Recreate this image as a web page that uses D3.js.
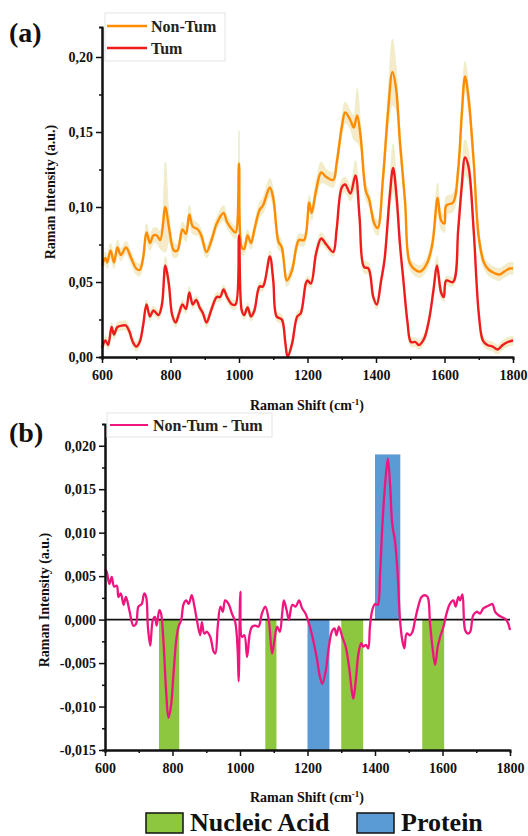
<!DOCTYPE html>
<html><head><meta charset="utf-8">
<script src="https://cdn.jsdelivr.net/npm/d3@7/dist/d3.min.js"></script>
<style>body{margin:0;background:#fff}svg{display:block}text{font-family:"Liberation Serif","Times New Roman",serif;font-weight:bold}</style>
</head><body><svg id="c" width="528" height="836"></svg>
<script>
// ---- data: [wavenumber, mean intensity, sd] ----
const nonTum = [[600,0.061,0.004],[610,0.066,0.004],[615,0.063,0.004],[625,0.071,0.005],[635,0.063,0.004],[645,0.073,0.005],[655,0.068,0.004],[670,0.073,0.004],[685,0.066,0.004],[700,0.059,0.004],[710,0.058,0.004],[720,0.066,0.004],[730,0.083,0.006],[740,0.076,0.005],[750,0.081,0.005],[760,0.081,0.005],[770,0.078,0.006],[785,0.100,0.03],[795,0.087,0.01],[810,0.071,0.005],[820,0.071,0.004],[835,0.085,0.005],[845,0.082,0.005],[855,0.095,0.006],[865,0.087,0.005],[880,0.085,0.004],[890,0.081,0.004],[905,0.070,0.004],[920,0.078,0.004],[935,0.089,0.004],[955,0.096,0.005],[965,0.090,0.004],[980,0.085,0.004],[990,0.083,0.004],[1000,0.129,0.022],[1008,0.073,0.005],[1015,0.072,0.004],[1025,0.081,0.004],[1035,0.076,0.004],[1045,0.085,0.004],[1060,0.098,0.005],[1070,0.101,0.005],[1090,0.113,0.006],[1100,0.106,0.006],[1115,0.077,0.005],[1125,0.073,0.004],[1140,0.051,0.004],[1155,0.058,0.004],[1175,0.078,0.004],[1190,0.078,0.004],[1205,0.103,0.005],[1212,0.096,0.005],[1225,0.111,0.006],[1240,0.123,0.007],[1255,0.120,0.005],[1275,0.118,0.005],[1285,0.129,0.005],[1300,0.153,0.006],[1310,0.163,0.007],[1325,0.158,0.006],[1335,0.153,0.008],[1345,0.161,0.018],[1355,0.147,0.008],[1370,0.111,0.006],[1380,0.105,0.005],[1395,0.089,0.005],[1405,0.086,0.005],[1420,0.118,0.007],[1435,0.163,0.012],[1448,0.190,0.022],[1458,0.180,0.015],[1470,0.143,0.008],[1485,0.103,0.005],[1498,0.063,0.004],[1515,0.058,0.004],[1530,0.057,0.004],[1550,0.063,0.004],[1565,0.076,0.005],[1580,0.106,0.01],[1590,0.091,0.006],[1600,0.089,0.006],[1605,0.101,0.006],[1625,0.103,0.006],[1640,0.125,0.007],[1650,0.160,0.008],[1660,0.187,0.01],[1670,0.173,0.008],[1685,0.131,0.006],[1700,0.080,0.005],[1715,0.063,0.004],[1730,0.058,0.004],[1745,0.056,0.004],[1760,0.055,0.004],[1775,0.057,0.004],[1790,0.059,0.004],[1800,0.059,0.004]];
const tum = [[600,0.006,0.003],[610,0.011,0.003],[618,0.008,0.003],[628,0.020,0.003],[635,0.015,0.003],[645,0.020,0.003],[660,0.021,0.003],[670,0.021,0.003],[680,0.017,0.003],[690,0.010,0.003],[700,0.007,0.003],[710,0.010,0.003],[720,0.021,0.003],[730,0.035,0.003],[740,0.027,0.003],[750,0.031,0.003],[765,0.028,0.003],[775,0.035,0.003],[785,0.061,0.006],[795,0.049,0.004],[805,0.028,0.003],[815,0.023,0.003],[825,0.029,0.003],[835,0.035,0.003],[845,0.032,0.003],[855,0.043,0.004],[865,0.035,0.003],[875,0.038,0.003],[885,0.033,0.003],[895,0.029,0.003],[905,0.023,0.003],[920,0.032,0.003],[935,0.040,0.003],[945,0.040,0.003],[955,0.045,0.003],[965,0.040,0.003],[980,0.035,0.003],[990,0.035,0.003],[1000,0.081,0.006],[1008,0.031,0.003],[1015,0.028,0.003],[1025,0.033,0.003],[1035,0.027,0.003],[1045,0.031,0.003],[1060,0.047,0.003],[1070,0.047,0.003],[1090,0.067,0.004],[1100,0.051,0.004],[1110,0.027,0.003],[1125,0.025,0.003],[1135,0.010,0.003],[1142,0.000,0.003],[1155,0.009,0.003],[1170,0.027,0.003],[1180,0.029,0.003],[1195,0.049,0.003],[1200,0.051,0.003],[1210,0.049,0.003],[1225,0.069,0.004],[1240,0.079,0.004],[1255,0.075,0.003],[1275,0.070,0.003],[1285,0.085,0.004],[1300,0.113,0.005],[1310,0.115,0.005],[1325,0.109,0.005],[1340,0.121,0.01],[1352,0.093,0.006],[1365,0.060,0.004],[1378,0.059,0.004],[1392,0.040,0.003],[1402,0.035,0.003],[1415,0.051,0.003],[1425,0.065,0.004],[1440,0.107,0.01],[1450,0.126,0.016],[1460,0.107,0.01],[1470,0.075,0.005],[1480,0.051,0.004],[1492,0.023,0.003],[1502,0.010,0.003],[1515,0.010,0.003],[1525,0.008,0.003],[1540,0.012,0.003],[1555,0.025,0.003],[1568,0.045,0.004],[1578,0.061,0.006],[1590,0.043,0.004],[1598,0.040,0.003],[1605,0.051,0.003],[1625,0.050,0.003],[1640,0.085,0.005],[1650,0.113,0.008],[1660,0.133,0.012],[1670,0.127,0.01],[1685,0.085,0.005],[1700,0.029,0.003],[1712,0.011,0.003],[1725,0.008,0.003],[1740,0.007,0.003],[1755,0.005,0.003],[1770,0.008,0.003],[1785,0.010,0.003],[1800,0.011,0.003]];
const diff = [[600,0.0058],[605,0.0055],[613,0.0041],[620,0.0049],[627,0.0038],[635,0.0039],[640,0.0026],[647,0.0030],[655,0.0017],[662,0.0026],[672,0.0011],[684,-0.0007],[692,-0.0005],[699,0.0015],[709,0.0018],[716,0.0030],[722,0.0026],[727,-0.0008],[734,-0.0030],[742,0.0000],[748,0.0003],[753,-0.0007],[761,0.0011],[766,0.0007],[773,-0.0024],[781,-0.0082],[788,-0.0113],[795,-0.0101],[803,-0.0062],[811,-0.0024],[818,-0.0008],[826,0.0000],[833,0.0018],[841,0.0022],[848,0.0018],[857,0.0028],[865,0.0015],[872,0.0000],[882,-0.0018],[887,-0.0003],[894,-0.0016],[902,-0.0014],[912,-0.0020],[922,-0.0037],[927,-0.0039],[934,-0.0008],[942,0.0015],[949,0.0009],[956,0.0022],[966,0.0018],[976,0.0007],[986,-0.0003],[993,-0.0035],[996,-0.0071],[1001,0.0032],[1006,-0.0020],[1013,-0.0018],[1021,-0.0043],[1029,-0.0016],[1036,-0.0008],[1046,-0.0007],[1055,-0.0008],[1065,0.0007],[1075,0.0015],[1085,0.0000],[1095,-0.0039],[1102,-0.0024],[1110,-0.0008],[1118,-0.0014],[1125,0.0007],[1130,0.0022],[1138,0.0011],[1145,0.0000],[1155,0.0017],[1165,0.0015],[1175,0.0022],[1184,0.0013],[1194,0.0007],[1198,0.0003],[1207,-0.0008],[1217,-0.0024],[1227,-0.0043],[1237,-0.0066],[1244,-0.0074],[1254,-0.0059],[1262,-0.0035],[1272,-0.0014],[1280,-0.0010],[1286,-0.0018],[1293,-0.0008],[1303,-0.0020],[1313,-0.0031],[1323,-0.0054],[1331,-0.0081],[1336,-0.0091],[1343,-0.0070],[1351,-0.0039],[1359,-0.0027],[1365,-0.0031],[1373,-0.0029],[1380,-0.0033],[1385,-0.0008],[1392,0.0011],[1400,0.0018],[1408,0.0017],[1415,0.0053],[1422,0.0110],[1430,0.0156],[1438,0.0185],[1445,0.0153],[1451,0.0110],[1459,0.0091],[1467,0.0053],[1474,0.0000],[1481,-0.0024],[1487,-0.0033],[1494,-0.0016],[1504,-0.0018],[1511,-0.0014],[1519,0.0000],[1528,0.0015],[1538,0.0026],[1548,0.0028],[1556,0.0026],[1563,-0.0004],[1570,-0.0031],[1578,-0.0052],[1586,-0.0031],[1593,-0.0020],[1603,-0.0008],[1612,0.0007],[1622,0.0018],[1632,0.0022],[1639,0.0015],[1647,0.0026],[1652,0.0022],[1659,0.0029],[1667,-0.0012],[1675,-0.0016],[1682,-0.0014],[1691,0.0005],[1701,0.0009],[1711,0.0007],[1721,0.0013],[1731,0.0015],[1741,0.0017],[1748,0.0018],[1756,0.0009],[1766,0.0005],[1775,0.0003],[1785,0.0001],[1793,-0.0003],[1800,-0.0012]];
// bands: [from, to, low, high, class]
const bands = [[760,820,-0.015,0,"Nucleic Acid"],[1075,1108,-0.015,0,"Nucleic Acid"],[1200,1265,-0.015,0,"Protein"],[1300,1365,-0.015,0,"Nucleic Acid"],[1400,1475,0,0.019,"Protein"],[1540,1605,-0.015,0,"Nucleic Acid"]];
const bandClasses = ["Nucleic Acid","Protein"];
const xTicks = [600,800,1000,1200,1400,1600,1800];
const yTicksA = [0,0.05,0.10,0.15,0.20];
const yTicksB = [-0.015,-0.010,-0.005,0,0.005,0.010,0.015,0.020];

const svg = d3.select("#c");
svg.append("rect").attr("width",528).attr("height",836).attr("fill","#fff");
const bandColor = d3.scaleOrdinal().domain(bandClasses).range(["#8dc63f","#5b9bd5"]);
const fmt = (d,dec) => d.toFixed(dec).replace(".",",");

function axes(g, x, y, yTicks, yMinor, dec) {
  const ax = g.append("g").attr("transform",`translate(0,${y.range()[0]})`)
    .call(d3.axisBottom(x).tickValues(xTicks).tickSize(6).tickSizeOuter(0).tickFormat(d=>d));
  ax.append("g").call(d3.axisBottom(x).tickValues(d3.range(700,1800,200)).tickSize(3).tickFormat(""));
  const ay = g.append("g").attr("transform",`translate(${x.range()[0]},0)`)
    .call(d3.axisLeft(y).tickValues(yTicks).tickSize(6).tickSizeOuter(0).tickFormat(d=>fmt(d,dec)));
  ay.append("g").call(d3.axisLeft(y).tickValues(yMinor).tickSize(3).tickFormat(""));
  [ax,ay].forEach(a=>{
    a.selectAll(".domain").attr("stroke","#111").attr("stroke-width",2);
    a.selectAll(".tick line").attr("stroke","#111").attr("stroke-width",1.5);
    a.selectAll("text").attr("fill","#111").style("font-size","14px").style("font-family","'Liberation Serif',serif").style("font-weight","bold");
  });
  ax.selectAll(".tick text").attr("dy","1em");
}

// ---------- panel (a) ----------
const xA = d3.scaleLinear().domain([600,1800]).range([102,513]);
const yA = d3.scaleLinear().domain([0,0.22]).range([357,27]);
const gA = svg.append("g");
const areaA = d3.area().x(d=>xA(d[0])).y0(d=>yA(Math.max(0,d[1]-d[2]))).y1(d=>yA(d[1]+d[2])).curve(d3.curveCatmullRom);
const lineA = d3.line().x(d=>xA(d[0])).y(d=>yA(d[1])).curve(d3.curveCatmullRom);
[nonTum,tum].forEach(s=>{
  gA.append("path").datum(s).attr("d",areaA).attr("fill","#f2dca4").attr("fill-opacity",0.6).attr("stroke","#e6efc8").attr("stroke-width",0.8);
});
[[nonTum,"#ff8c00"],[tum,"#ee1c1c"]].forEach(([s,c])=>{
  gA.append("path").datum(s).attr("d",lineA).attr("fill","none").attr("stroke",c).attr("stroke-width",2.4);
});
axes(gA,xA,yA,yTicksA,[0.025,0.075,0.125,0.175],2);
// legend a
const lA = gA.append("g");
lA.append("rect").attr("x",105).attr("y",13).attr("width",120).attr("height",48).attr("fill","#fff").attr("stroke","#e4e4e4");
[["Non-Tum","#ff8c00",26],["Tum","#ee1c1c",48]].forEach(([t,c,yy])=>{
  lA.append("line").attr("x1",107).attr("x2",147).attr("y1",yy).attr("y2",yy).attr("stroke",c).attr("stroke-width",2.4);
  lA.append("text").attr("x",151).attr("y",yy+5.5).attr("font-size",16).attr("fill","#222").text(t);
});
svg.append("text").attr("x",9).attr("y",42).attr("font-size",28).attr("fill","#111").text("(a)");
svg.append("text").attr("transform","translate(55,192) rotate(-90)").attr("text-anchor","middle").attr("font-size",14).attr("fill","#111").text("Raman Intensity (a.u.)");
const tA = svg.append("text").attr("x",307).attr("y",410).attr("text-anchor","middle").attr("font-size",14).attr("fill","#111");
tA.append("tspan").text("Raman Shift (cm");
tA.append("tspan").attr("dy",-5).attr("font-size",9).text("-1");
tA.append("tspan").attr("dy",5).text(")");

// ---------- panel (b) ----------
const xB = d3.scaleLinear().domain([600,1800]).range([105,510]);
const yB = d3.scaleLinear().domain([-0.015,0.0225]).range([750,424]);
const gB = svg.append("g");
gB.selectAll("rect.band").data(bands).join("rect").attr("class","band")
  .attr("x",d=>xB(d[0])).attr("width",d=>xB(d[1])-xB(d[0]))
  .attr("y",d=>yB(d[3])).attr("height",d=>yB(d[2])-yB(d[3]))
  .attr("fill",d=>bandColor(d[4]));
gB.append("line").attr("x1",xB(600)).attr("x2",xB(1800)).attr("y1",yB(0)).attr("y2",yB(0)).attr("stroke","#111").attr("stroke-width",1.8);
gB.append("path").datum(diff).attr("d",d3.line().x(d=>xB(d[0])).y(d=>yB(d[1])).curve(d3.curveCatmullRom))
  .attr("fill","none").attr("stroke","#f0157e").attr("stroke-width",2.3);
axes(gB,xB,yB,yTicksB,d3.range(-0.0125,0.022,0.005),3);
const lB = gB.append("g");
lB.append("rect").attr("x",107).attr("y",413).attr("width",165).attr("height",24).attr("fill","#fff").attr("stroke","#e4e4e4");
lB.append("line").attr("x1",110).attr("x2",148).attr("y1",425).attr("y2",425).attr("stroke","#f0157e").attr("stroke-width",2.2);
lB.append("text").attr("x",153).attr("y",430.5).attr("font-size",16).attr("fill","#222").text("Non-Tum - Tum");
svg.append("text").attr("x",9).attr("y",442).attr("font-size",28).attr("fill","#111").text("(b)");
svg.append("text").attr("transform","translate(49,600) rotate(-90)").attr("text-anchor","middle").attr("font-size",14).attr("fill","#111").text("Raman Intensity (a.u.)");
const tB = svg.append("text").attr("x",307).attr("y",802).attr("text-anchor","middle").attr("font-size",14).attr("fill","#111");
tB.append("tspan").text("Raman Shift (cm");
tB.append("tspan").attr("dy",-5).attr("font-size",9).text("-1");
tB.append("tspan").attr("dy",5).text(")");

// bottom legend
const lg = svg.append("g");
[[146,"Nucleic Acid"],[357,"Protein"]].forEach(([x0,t])=>{
  lg.append("rect").attr("x",x0).attr("y",813).attr("width",37).attr("height",20).attr("fill",bandColor(t)).attr("stroke","#111").attr("stroke-width",1.5);
  lg.append("text").attr("x",x0+44).attr("y",831).attr("font-size",26).attr("fill","#111").text(t);
});
</script></body></html>
